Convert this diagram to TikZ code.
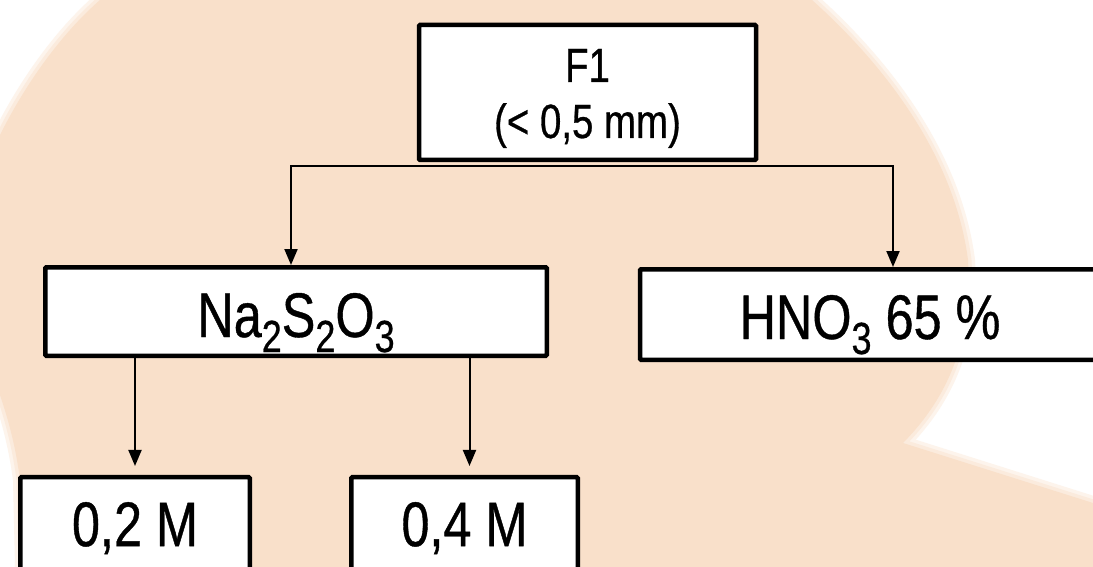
\documentclass[tikz,border=0pt]{standalone}
\usepackage{fontspec}
\setmainfont{Liberation Sans}[FakeStretch=0.8,FakeBold=0.6]
\usetikzlibrary{arrows.meta,calc}
\definecolor{peach}{RGB}{249,224,202}
% lowered, smaller digit for chemical formulas
\newcommand\lowidx[1]{\raisebox{-15pt}{\fontsize{45}{45}\selectfont #1}}
% two centred lines with a fixed baseline distance
\newcommand\twolines[2]{\vtop{\baselineskip=56pt\lineskiplimit=-100pt\halign{\hfil##\hfil\cr#1\cr#2\cr}}}

\begin{document}
\begin{tikzpicture}[x=1pt,y=-1pt,
  box/.style={draw=black, fill=white, line width=4.5pt, rounded corners=1pt,
    inner sep=0pt, text height=51pt, text depth=0pt,
    font=\fontsize{63}{72}\selectfont},
  link/.style={line width=2pt, -{Triangle[length=16pt,width=13pt]}}]
\useasboundingbox (0,0) rectangle (1093,567);
\clip (0,0) rectangle (1093,567);

% backdrop: a soft-edged peach blob on white
\fill[white] (0,0) rectangle (1093,567);
\def\blob{(100,0) -- (812,0)
  .. controls (890,70) and (955,160) .. (968,260)
  .. controls (972,330) and (955,390) .. (903,443)
  -- (1093,503) -- (1093,567) -- (22,567) -- (20,480)
  .. controls (15,440) and (5,410) .. (0,395) -- (0,135)
  .. controls (25,85) and (60,35) .. (100,0) -- cycle}
\draw[peach!35, line width=14pt, line join=round] \blob;
\draw[peach!65, line width=7pt, line join=round] \blob;
\fill[peach] \blob;

% boxes
\node[box, minimum width=337, minimum height=135, text height=34pt, text depth=55pt,
  font=\fontsize{48}{56}\selectfont] (f1) at (587.5,92.5) {\twolines{F1}{(< 0,5 mm)}};
\node[box, minimum width=501.5, minimum height=88.5] (na) at (296,311.5)
  {Na\lowidx{2}S\lowidx{2}O\lowidx{3}};
\node[box, minimum width=460, minimum height=90.5, text height=49pt] (hno) at (870,314.5)
  {HNO\lowidx{3} 65 \%};
\node[box, minimum width=229.5, minimum height=102.75, text height=35pt] (m2) at (135,528.6) {0,2 M};
\node[box, minimum width=226.5, minimum height=102.75, text height=35pt] (m4) at (464.5,528.6) {0,4 M};

% connectors
\coordinate (split) at ($(f1.south)+(-14,3.75)$);
\draw[link] (split) -| ($(na.north)+(-5,0)$);
\draw[link] (split) -| ($(hno.north)+(23,0)$);
\draw[link, shorten >=9pt] (na.south -| m2.north) -- (m2.north);
\draw[link, shorten >=9pt] ($(na.south -| m4.north)+(5,0)$) -- ($(m4.north)+(5,0)$);
\end{tikzpicture}
\end{document}
